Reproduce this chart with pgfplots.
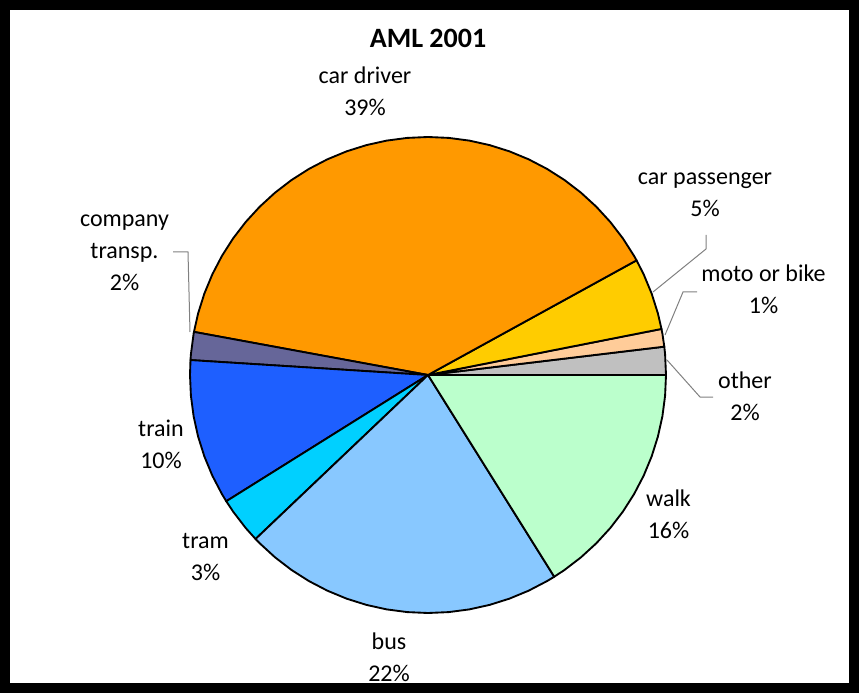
\documentclass[border=0pt]{standalone}
\usepackage{pgfplots}
\pgfplotsset{compat=1.18}
\usepackage{fontspec}
\setmainfont{Carlito}
\definecolor{cdriver}{HTML}{FF9900}
\definecolor{cpass}{HTML}{FFCC00}
\definecolor{cmoto}{HTML}{FFCC99}
\definecolor{cother}{HTML}{C0C0C0}
\definecolor{ccomp}{HTML}{666699}
\definecolor{ctrain}{HTML}{1E5FFF}
\definecolor{ctram}{HTML}{00D0FF}
\definecolor{cbus}{HTML}{88C8FF}
\definecolor{cwalk}{HTML}{BBFFCC}
\definecolor{lead}{HTML}{808080}
\begin{document}
\begin{tikzpicture}
% shares (%): other 1.9, moto or bike 1.2, car passenger 4.9, car driver 39.1,
% company transp. 1.9, train 9.9, tram 3.2, bus 21.8, walk 16.1
% wedge boundaries (degrees, counter-clockwise from east):
% 0, 6.84, 11.16, 28.8, 169.56, 176.4, 212.04, 223.56, 302.04, 360
\begin{axis}[
  scale only axis,
  width=636.75pt, height=512.25pt,
  xmin=-423, xmax=426, ymin=-313, ymax=370,
  xtick=\empty, ytick=\empty,
  axis on top,
  axis line style={line width=7.5pt, black, line join=miter},
  data cs=polar,
  every axis plot/.append style={draw=black, line width=1.4pt, line join=round, mark=none},
]
\addplot[fill=cother] coordinates {(0,0) (0,238) (5,238) (6.84,238)} -- cycle;
\addplot[fill=cmoto] coordinates {(0,0) (6.84,238) (10,238) (11.16,238)} -- cycle;
\addplot[fill=cpass] coordinates {(0,0) (11.16,238) (15,238) (20,238) (25,238) (28.8,238)} -- cycle;
\addplot[fill=cdriver] coordinates {(0,0) (28.8,238) (30,238) (35,238) (40,238) (45,238) (50,238) (55,238) (60,238) (65,238) (70,238) (75,238) (80,238) (85,238) (90,238) (95,238) (100,238) (105,238) (110,238) (115,238) (120,238) (125,238) (130,238) (135,238) (140,238) (145,238) (150,238) (155,238) (160,238) (165,238) (169.56,238)} -- cycle;
\addplot[fill=ccomp] coordinates {(0,0) (169.56,238) (170,238) (175,238) (176.4,238)} -- cycle;
\addplot[fill=ctrain] coordinates {(0,0) (176.4,238) (180,238) (185,238) (190,238) (195,238) (200,238) (205,238) (210,238) (212.04,238)} -- cycle;
\addplot[fill=ctram] coordinates {(0,0) (212.04,238) (215,238) (220,238) (223.56,238)} -- cycle;
\addplot[fill=cbus] coordinates {(0,0) (223.56,238) (225,238) (230,238) (235,238) (240,238) (245,238) (250,238) (255,238) (260,238) (265,238) (270,238) (275,238) (280,238) (285,238) (290,238) (295,238) (300,238) (302.04,238)} -- cycle;
\addplot[fill=cwalk] coordinates {(0,0) (302.04,238) (305,238) (310,238) (315,238) (320,238) (325,238) (330,238) (335,238) (340,238) (345,238) (350,238) (355,238) (360,238)} -- cycle;

% leader lines
\draw[lead, line width=0.75pt] (axis cs:278,140) -- (axis cs:278,126) -- (axis cs:225,83);
\draw[lead, line width=0.75pt] (axis cs:269,83) -- (axis cs:255,83) -- (axis cs:237,40);
\draw[lead, line width=0.75pt] (axis cs:285,-22) -- (axis cs:272,-22) -- (axis cs:239,15);
\draw[lead, line width=0.75pt] (axis cs:-255,123) -- (axis cs:-240,123) -- (axis cs:-238,43);

% title
\node[anchor=base, font=\fontsize{21}{26}\selectfont\bfseries] at (axis cs:0,327) {AML 2001};

% labels
\tikzset{lbl/.style={anchor=base, inner sep=0pt, font=\fontsize{18}{24}\selectfont}}
\node[lbl] at (axis cs:-63,291) {car driver};
\node[lbl] at (axis cs:-63,259) {39\%};
\node[lbl] at (axis cs:277,190) {car passenger};
\node[lbl] at (axis cs:277,158) {5\%};
\node[lbl] at (axis cs:335.5,93) {moto or bike};
\node[lbl] at (axis cs:335.5,61) {1\%};
\node[lbl] at (axis cs:317,-13) {other};
\node[lbl] at (axis cs:317,-45) {2\%};
\node[lbl] at (axis cs:-303.5,148) {company};
\node[lbl] at (axis cs:-303.5,116) {transp.};
\node[lbl] at (axis cs:-303.5,84) {2\%};
\node[lbl] at (axis cs:-267,-61) {train};
\node[lbl] at (axis cs:-267,-93) {10\%};
\node[lbl] at (axis cs:-222.5,-173) {tram};
\node[lbl] at (axis cs:-222.5,-205) {3\%};
\node[lbl] at (axis cs:-39,-274) {bus};
\node[lbl] at (axis cs:-39,-306) {22\%};
\node[lbl] at (axis cs:240.5,-131) {walk};
\node[lbl] at (axis cs:240.5,-163) {16\%};
\end{axis}
\end{tikzpicture}
\end{document}
